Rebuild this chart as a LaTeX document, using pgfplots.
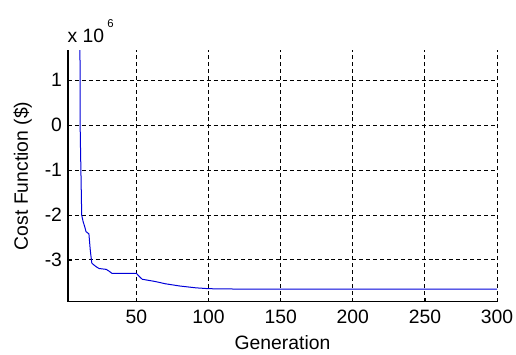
\documentclass[border=0pt]{standalone}
\usepackage{pgfplots}
\pgfplotsset{compat=1.18}
\usepackage{fontspec}
\setmainfont{Liberation Sans}
\begin{document}
\begin{tikzpicture}
\useasboundingbox (-51pt,-39.2pt) rectangle (336pt,226.3pt);
\begin{axis}[
  at={(0,0)}, anchor=south west,
  scale only axis,
  width=321.75pt, height=188.8pt,
  xmin=2.5, xmax=300, ymin=-3.93, ymax=1.67,
  axis lines=left,
  axis line style={-, black, line width=0.8pt},
  xtick={50,100,150,200,250,300},
  ytick={-3,-2,-1,0,1},
  yticklabels={-3,-2,-1,0,1},
  tick align=inside,
  major tick length=3pt,
  tick style={black, line width=0.6pt},
  grid=major,
  major grid style={black, line width=0.7pt, dash pattern=on 3pt off 2.2pt},
  font=\fontsize{14.5}{16}\selectfont,
  /pgf/number format/assume math mode=true,
  x tick label style={yshift=-3pt},
  y tick label style={xshift=-1pt},
  xlabel={Generation},
  ylabel={Cost Function (\$)},
  xlabel style={at={(axis description cs:0.5,-0.1907)}, anchor=base},
  ylabel style={at={(axis description cs:-0.1057,0.5)}, anchor=center},
  scaled y ticks=false,
  clip=true,
]
\addplot[blue!85!black, line width=0.75pt] coordinates {
(3,60) (5,40) (7,25) (9,14) (10,9)
(11,-0.2) (12,-2.0) (13,-2.15) (14,-2.25) (15,-2.37) (17,-2.42)
(18,-2.8) (19,-3.07) (20,-3.1) (22,-3.15) (24,-3.19) (29,-3.21)
(31,-3.25) (33,-3.30) (50,-3.30) (52,-3.37) (54,-3.43) (63,-3.48)
(70,-3.53) (80,-3.58) (91,-3.62) (100,-3.64) (125,-3.65) (300,-3.65)
};
\end{axis}
\node[anchor=base west, font=\fontsize{14.5}{16}\selectfont, inner sep=0pt] at (-0.5pt,194.5pt) {x 10\,\raisebox{11pt}{\fontsize{8.5}{9}\selectfont 6}};
\end{tikzpicture}
\end{document}
